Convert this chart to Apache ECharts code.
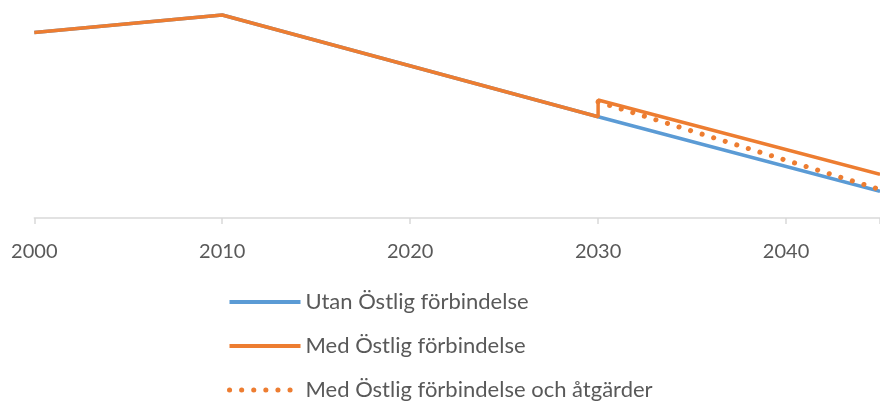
<!DOCTYPE html>
<html>
<head>
<meta charset="utf-8">
<script src="https://cdn.jsdelivr.net/npm/echarts@6/dist/echarts.min.js"></script>
<style>
html, body { margin: 0; padding: 0; background: #fff; }
#myChart { width: 880px; height: 403px; }
</style>
</head>
<body>
<div id="myChart"></div>
<script>
// år och värden (godtycklig skala, axeln har inga etiketter)
const yearTicks = [2000, 2010, 2020, 2030, 2040]
const utanData = [[2000, 185.5], [2010, 203], [2030, 101.3], [2045, 26.6]]
const medData = [[2000, 185.5], [2010, 203], [2030, 101.3], [2030, 118], [2045, 43.6]]
const medAtgData = [[2030, 116.2], [2045, 28.5]]
const seriesNames = ['Utan Östlig förbindelse', 'Med Östlig förbindelse', 'Med Östlig förbindelse och åtgärder']

const blue = '#5B9BD5'
const orange = '#ED7D31'
const textColor = '#595959'
const fontFamily = 'Lato, "Open Sans", sans-serif'
const dotStyle = { color: orange, width: 5, type: [0.1, 12], cap: 'round' }

let myChart = echarts.init(document.getElementById('myChart'))
myChart.setOption({
  animation: false,
  grid: { left: 34.3, right: -5.3, top: 0, bottom: 185 },
  xAxis: {
    type: 'value',
    min: 2000,
    max: 2045,
    interval: 10,
    axisLine: { show: true, lineStyle: { color: '#D9D9D9', width: 1.5 } },
    axisTick: { show: true, length: 6, lineStyle: { color: '#D9D9D9', width: 1.5 } },
    splitLine: { show: false },
    axisLabel: {
      color: textColor,
      fontFamily: fontFamily,
      fontSize: 20,
      margin: 24,
      customValues: yearTicks,
      formatter: function (v) { return String(v) }
    }
  },
  yAxis: {
    type: 'value',
    min: 0,
    max: 218,
    show: false
  },
  legend: {
    orient: 'vertical',
    left: 227,
    top: 291,
    height: 200,
    padding: 0,
    itemWidth: 71,
    itemHeight: 20,
    itemGap: 22,
    itemStyle: { opacity: 0 },
    textStyle: { color: textColor, fontFamily: fontFamily, fontSize: 22 },
    data: [
      { name: seriesNames[0], lineStyle: { color: blue, width: 4 } },
      { name: seriesNames[1], lineStyle: { color: orange, width: 4 } },
      { name: seriesNames[2], lineStyle: dotStyle }
    ]
  },
  series: [
    {
      name: seriesNames[0],
      type: 'line',
      data: utanData,
      symbol: 'none',
      lineStyle: { color: blue, width: 3.5 },
      itemStyle: { color: blue }
    },
    {
      name: seriesNames[1],
      type: 'line',
      data: medData,
      symbol: 'none',
      lineStyle: { color: orange, width: 3.5 },
      itemStyle: { color: orange }
    },
    {
      name: seriesNames[2],
      type: 'line',
      data: medAtgData,
      symbol: 'none',
      lineStyle: dotStyle,
      itemStyle: { color: orange }
    }
  ]
})
</script>
</body>
</html>
